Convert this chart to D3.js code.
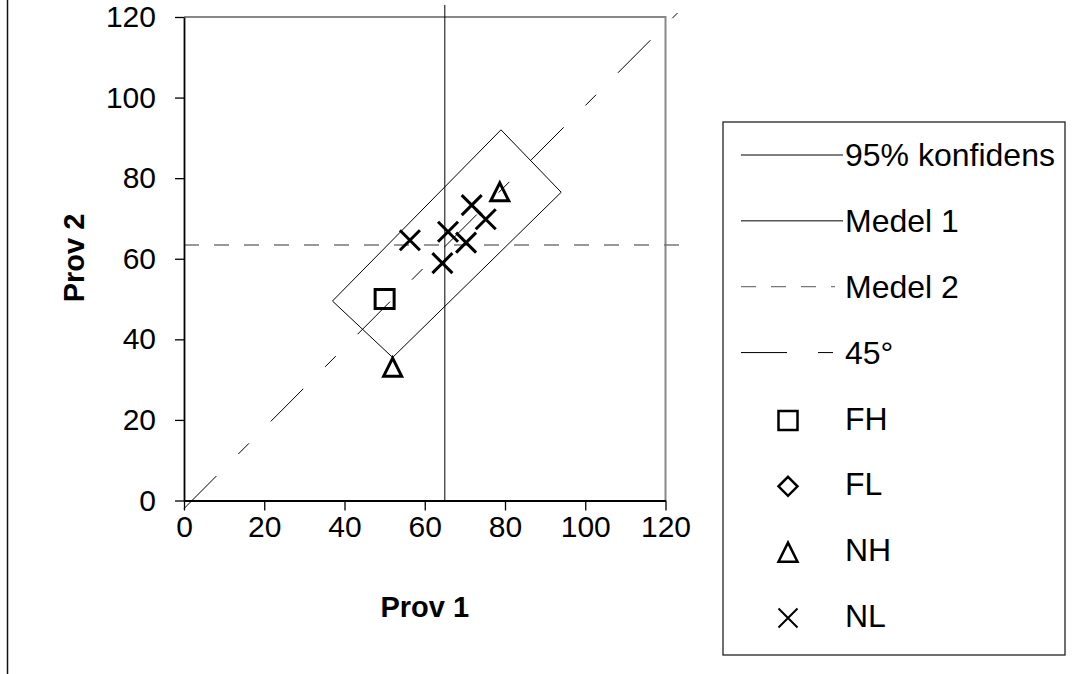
<!DOCTYPE html>
<html>
<head>
<meta charset="utf-8">
<script src="https://cdn.jsdelivr.net/npm/d3@7"></script>
<style>
  body { margin: 0; background: #fff; }
  svg { display: block; }
  text { font-family: "Liberation Sans", Arial, sans-serif; fill: #000; }
</style>
</head>
<body>
<svg id="chart" width="1076" height="674"></svg>
<script>
// Axis ticks
const xTicks = [0, 20, 40, 60, 80, 100, 120];
const yTicks = [0, 20, 40, 60, 80, 100, 120];

// 95% confidence region (closed outline)
const ciX = [37, 79, 94, 52, 37];
const ciY = [49.5, 92, 76.5, 35.5, 49.5];

// Mean of Prov 1 (vertical) and Prov 2 (horizontal)
const medel1X = [65, 65];
const medel1Y = [0, 123];
const medel2X = [0, 124];
const medel2Y = [63.4, 63.4];

// 45 degree reference line
const diagX = [0, 123];
const diagY = [-2, 121];

// Groups
const fhX = [50];
const fhY = [50];
const flX = [];
const flY = [];
const nhX = [52, 78.7];
const nhY = [33.1, 76.6];
const nlX = [56.3, 71.7, 75.2, 70.3, 65.8, 64.4];
const nlY = [64.6, 73.3, 69.8, 64.0, 66.7, 58.9];

const legendLabels = ["95% konfidens", "Medel 1", "Medel 2", "45°", "FH", "FL", "NH", "NL"];

const svg = d3.select("#chart");

const x = d3.scaleLinear().domain([0, 120]).range([184, 665.5]);
const y = d3.scaleLinear().domain([0, 120]).range([500.5, 17]);

// outer chart edge
svg.append("line").attr("x1", 7.5).attr("x2", 7.5).attr("y1", 0).attr("y2", 674)
  .attr("stroke", "#111").attr("stroke-width", 1.5);

// plot frame (top and right)
svg.append("path")
  .attr("d", `M${x(0)},${y(120)} H${x(120)} V${y(0)}`)
  .attr("fill", "none").attr("stroke", "#888").attr("stroke-width", 2);

const pts = (xs, ys) => xs.map((v, i) => [v, ys[i]]);
const line = d3.line().x(d => x(d[0])).y(d => y(d[1]));

// 95% confidence outline
svg.append("path").attr("d", line(pts(ciX, ciY)))
  .attr("fill", "none").attr("stroke", "#000").attr("stroke-width", 1);

// Medel 1
svg.append("path").attr("d", line(pts(medel1X, medel1Y)))
  .attr("fill", "none").attr("stroke", "#000").attr("stroke-width", 1);

// Medel 2
svg.append("path").attr("d", line(pts(medel2X, medel2Y)))
  .attr("fill", "none").attr("stroke", "#777").attr("stroke-width", 1.6)
  .attr("stroke-dasharray", "15,15");

// 45 degree line
svg.append("path").attr("d", line(pts(diagX, diagY)))
  .attr("fill", "none").attr("stroke", "#000").attr("stroke-width", 1)
  .attr("stroke-dasharray", "46,31,15,31");

// axes
const yAxis = d3.axisLeft(y).tickValues(yTicks).tickSize(9).tickSizeOuter(0).tickPadding(19);
const xAxis = d3.axisBottom(x).tickValues(xTicks).tickSize(10).tickSizeOuter(0).tickPadding(5);

const gy = svg.append("g").attr("transform", `translate(${x(0)},0)`).call(yAxis);
const gx = svg.append("g").attr("transform", `translate(0,${y(0)})`).call(xAxis);
[gx, gy].forEach(g => {
  g.select(".domain").attr("stroke", "#000").attr("stroke-width", 1.8);
  g.selectAll(".tick line").attr("stroke", "#000").attr("stroke-width", 1.3);
  g.selectAll(".tick text").attr("font-size", 30).attr("font-family", "'Liberation Sans', Arial, sans-serif").attr("fill", "#000");
});

// axis titles
svg.append("text").attr("x", (x(0) + x(120)) / 2).attr("y", 607).attr("dy", "0.35em")
  .attr("text-anchor", "middle").attr("font-size", 29).attr("font-weight", "bold").text("Prov 1");
svg.append("text").attr("transform", "translate(74,258) rotate(-90)").attr("dy", "0.35em")
  .attr("text-anchor", "middle").attr("font-size", 29).attr("font-weight", "bold").text("Prov 2");

// marker shapes
function markerPath(type, cx, cy, h) {
  if (type === "square") return `M${cx - h},${cy - h}H${cx + h}V${cy + h}H${cx - h}Z`;
  if (type === "diamond") return `M${cx},${cy - h}L${cx + h},${cy}L${cx},${cy + h}L${cx - h},${cy}Z`;
  if (type === "triangle") return `M${cx},${cy - h}L${cx + h},${cy + h}L${cx - h},${cy + h}Z`;
  return `M${cx - h},${cy - h}L${cx + h},${cy + h}M${cx + h},${cy - h}L${cx - h},${cy + h}`;
}

const series = [
  { xs: fhX, ys: fhY, type: "square", h: 9.5 },
  { xs: flX, ys: flY, type: "diamond", h: 10 },
  { xs: nhX, ys: nhY, type: "triangle", h: 9 },
  { xs: nlX, ys: nlY, type: "cross", h: 10 }
];

series.forEach(s => {
  svg.append("g").selectAll("path").data(pts(s.xs, s.ys)).join("path")
    .attr("d", d => markerPath(s.type, x(d[0]), y(d[1]), s.h))
    .attr("fill", "none").attr("stroke", "#000").attr("stroke-width", 3)
    .attr("stroke-linejoin", "miter");
});

// legend
const lg = svg.append("g");
lg.append("rect").attr("x", 723).attr("y", 122).attr("width", 342).attr("height", 533)
  .attr("fill", "#fff").attr("stroke", "#222").attr("stroke-width", 1.3);

const rowY = d3.scalePoint().domain(legendLabels).range([155, 616]);
const lineStyles = [
  { color: "#000", dash: null, w: 1, end: 843 },
  { color: "#000", dash: null, w: 1, end: 843 },
  { color: "#777", dash: "15,15", w: 1.3, end: 835 },
  { color: "#000", dash: "46,31,15,31", w: 1, end: 833 }
];
legendLabels.forEach((lab, i) => {
  const ry = rowY(lab);
  if (i < 4) {
    const st = lineStyles[i];
    lg.append("line").attr("x1", 741).attr("x2", st.end).attr("y1", ry).attr("y2", ry)
      .attr("stroke", st.color).attr("stroke-width", st.w)
      .attr("stroke-dasharray", st.dash);
  } else {
    const s = series[i - 4];
    lg.append("path").attr("d", markerPath(s.type, 788, ry + 2, 9.5))
      .attr("fill", "none").attr("stroke", "#000").attr("stroke-width", s.type === "cross" ? 2 : 2.5);
  }
  lg.append("text").attr("x", 845).attr("y", ry).attr("dy", "0.35em")
    .attr("font-size", 32).text(lab);
});
</script>
</body>
</html>
